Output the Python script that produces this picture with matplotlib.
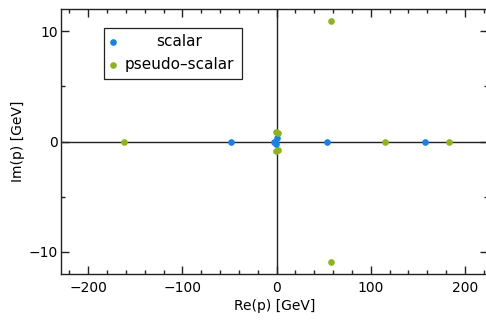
import matplotlib
matplotlib.use("Agg")
import matplotlib.pyplot as plt
from matplotlib.patches import Rectangle
from matplotlib.ticker import MultipleLocator

# poles in the complex p plane [GeV]
scalar_re = [-48.8, -2.5, 0.0, -0.3, 53.4, 157.8]
scalar_im = [0.0, 0.0, 0.3, -0.25, 0.0, 0.0]
pseudo_re = [-162.4, -1.0, 1.5, -1.0, 1.5, 57.3, 57.3, 115.3, 183.6]
pseudo_im = [0.0, 0.9, 0.8, -0.9, -0.8, 10.9, -10.9, 0.0, 0.0]

blue = "#1a82e0"
green = "#8db41f"

fig = plt.figure(figsize=(4.86, 3.22), dpi=100)
W, H = 486, 322
left, right, top, bottom = 61, 488, 9, 274
ax = fig.add_axes([left / W, 1 - bottom / H, (right - left) / W, (bottom - top) / H])

ax.axhline(0, color="#222222", lw=1.0, zorder=1)
ax.axvline(0, color="#222222", lw=1.0, zorder=1)

ms = 4.8
ax.plot(scalar_re, scalar_im, "o", color=blue, ms=ms, mec="none", zorder=3)
ax.plot(pseudo_re, pseudo_im, "o", color=green, ms=ms, mec="none", zorder=3)

ax.set_xlim(-229, 224.5)
ax.set_ylim(-12, 12)
ax.xaxis.set_major_locator(MultipleLocator(100))
ax.xaxis.set_minor_locator(MultipleLocator(20))
ax.yaxis.set_major_locator(MultipleLocator(10))
ax.yaxis.set_minor_locator(MultipleLocator(5))
ax.tick_params(which="both", direction="in", top=True, right=True, width=1.0,
               color="#222222", labelsize=10)
ax.tick_params(which="major", length=5.5)
ax.tick_params(which="minor", length=3)
ax.tick_params(axis="x", pad=5)
ax.tick_params(axis="y", pad=2)
for s in ax.spines.values():
    s.set_linewidth(1.0)
    s.set_color("#222222")

ax.set_xlabel("Re(p) [GeV]", fontsize=10, labelpad=3)
ax.set_ylabel("Im(p) [GeV]", fontsize=10, labelpad=3)

# legend box drawn by hand (Mathematica style, centred labels)
def px(x, y):
    return ((x - left) / (right - left), (bottom - y) / (bottom - top))

x0, y0 = px(104, 79)
x1, y1 = px(242, 28)
ax.add_patch(Rectangle((x0, y0), x1 - x0, y1 - y0, transform=ax.transAxes,
                       fill=True, fc="white", ec="#222222", lw=0.9, zorder=4))
for lab, col, yy in [("scalar", blue, 42), ("pseudo\u2013scalar", green, 65)]:
    mx, my = px(113, yy)
    ax.plot([mx], [my], "o", color=col, ms=ms, mec="none",
            transform=ax.transAxes, zorder=5, clip_on=False)
    tx, ty = px(179.5, yy)
    ax.text(tx, ty, lab, transform=ax.transAxes, ha="center", va="center",
            fontsize=11, zorder=5)

fig.savefig("out.png", dpi=100)
